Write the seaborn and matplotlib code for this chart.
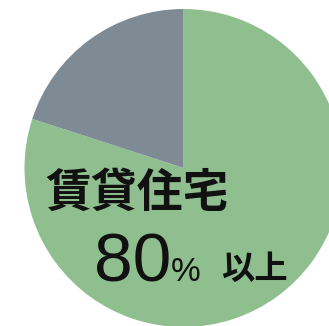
import matplotlib
matplotlib.use("Agg")
import matplotlib.pyplot as plt
import seaborn as sns

# Share of rental housing
categories = ["賃貸住宅", "その他"]
shares = [80, 20]
colors = ["#8FBF8F", "#7E8B95"]
label_title = "賃貸住宅"
label_value = "80"
label_unit = "%"
label_suffix = "以上"

sns.set_theme(style="white")
plt.rcParams["font.family"] = ["Noto Sans CJK JP", "DejaVu Sans"]

W, H = 329, 326
fig = plt.figure(figsize=(W / 100, H / 100), dpi=100)
ax = fig.add_axes([0, 0, 1, 1])

ax.pie(shares, colors=colors, startangle=90, counterclock=False,
       center=(183.5, H - 168), radius=159,
       wedgeprops=dict(linewidth=0), frame=True)
ax.set_xlim(0, W)
ax.set_ylim(0, H)
ax.set_aspect("equal")
ax.axis("off")

ax.text(45, H - 207, label_title, fontsize=33, fontweight="bold",
        color="#111111", ha="left", va="baseline")
ax.text(94, H - 281, label_value, fontsize=50, color="#111111",
        family=["Liberation Sans", "DejaVu Sans"], ha="left", va="baseline")
ax.text(171, H - 281, label_unit, fontsize=24, color="#111111",
        family=["Liberation Sans", "DejaVu Sans"], ha="left", va="baseline")
ax.text(221, H - 279, label_suffix, fontsize=24, fontweight="bold",
        color="#111111", ha="left", va="baseline")

fig.savefig("out.png", dpi=100)
